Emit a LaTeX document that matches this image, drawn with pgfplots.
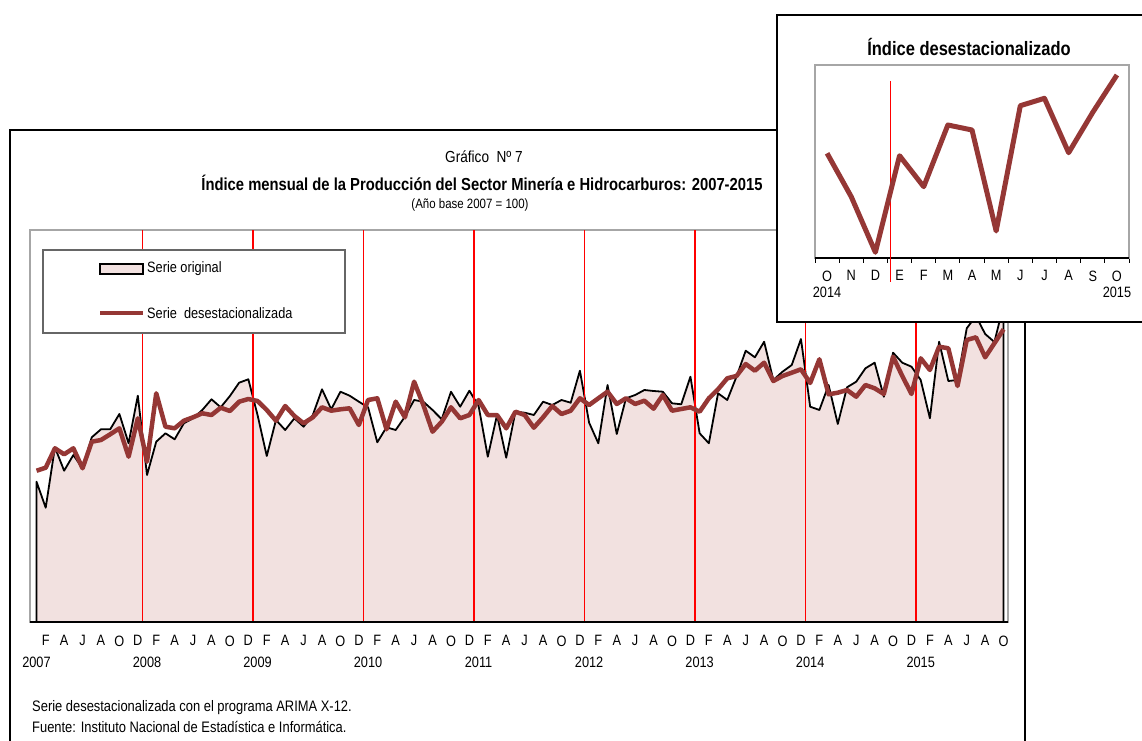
\documentclass[border=0pt]{standalone}
\usepackage{pgfplots}
\pgfplotsset{compat=1.18}
\usepackage{pgfplotstable}
\usepackage{fontspec}
\setmainfont{Liberation Sans}[FakeStretch=0.85]
\definecolor{pinkfill}{HTML}{F2E1E0}
\definecolor{redline}{HTML}{953735}
\pgfplotstableread{
m v
0 140.3
1 114.3
2 174.7
3 151.3
4 167
5 153.7
6 184.7
7 192.7
8 192.7
9 208
10 178.7
11 226.3
12 147
13 180.3
14 188.7
15 182.7
16 198.7
17 203.7
18 212
19 222.7
20 214.7
21 226
22 239.3
23 242.7
24 207
25 166
26 202
27 192
28 203.7
29 195.3
30 207
31 232.7
32 212.7
33 230.3
34 226.3
35 220.3
36 214.7
37 179.7
38 194.7
39 192
40 205.3
41 222
42 220.3
43 212
44 202.7
45 230.3
46 215.3
47 231.3
48 216
49 165.3
50 207
51 164.3
52 210.3
53 209.3
54 207
55 220.3
56 217
57 222
58 219.3
59 251.3
60 199.3
61 178.7
62 237
63 188
64 223.7
65 227
66 232
67 231
68 230.3
69 218.7
70 217.7
71 245.3
72 188.7
73 178.7
74 228.7
75 222
76 245.3
77 271.3
78 264.7
79 280.3
80 242
81 250.3
82 257
83 283
84 215.3
85 212
86 237
87 198
88 234.7
89 240.3
90 253.7
91 259.3
92 225.3
93 269.3
94 259.3
95 255.3
96 242
97 203.7
98 280.3
99 241
100 242
101 293.7
102 306
103 288
104 280
105 317
}\orig
\pgfplotstableread{
m v
0 151.3
1 154.3
2 173.7
3 167.7
4 173.7
5 153.7
6 180.3
7 182
8 187.7
9 193.7
10 165.3
11 203.7
12 160.3
13 228.7
14 195.3
15 193.7
16 201.3
17 204.7
18 208.7
19 207
20 214.3
21 211
22 220.3
23 223
24 221
25 212
26 201.3
27 216
28 206
29 198.7
30 204.7
31 214.7
32 211.3
33 212.7
34 213.7
35 197
36 222
37 223.7
38 192.7
39 220.3
40 204.7
41 240.3
42 217
43 190.3
44 200.3
45 214.7
46 203.7
47 207
48 222
49 207
50 207
51 193.7
52 210.3
53 207
54 194.3
55 204.7
56 216
57 208
58 211.3
59 223.7
60 217
61 223.7
62 230.3
63 218
64 223.7
65 218
66 221.3
67 213.3
68 227
69 211.3
70 213
71 214.7
72 210.3
73 223.7
74 232.7
75 243.7
76 246
77 258
78 251.3
79 259.3
80 241
81 246
82 249.3
83 252.7
84 239
85 262.7
86 227.7
87 229.3
88 232
89 225.3
90 237
91 233.7
92 228
93 265.3
94 246
95 228
96 263.7
97 252
98 275.3
99 273.7
100 236
101 282
102 284.7
103 264.7
104 278.7
105 292.7
}\desest
\pgfplotstableread{
m v
0 104.7
1 61.3
2 5.7
3 102.3
4 71.3
5 133
6 128
7 27
8 152.3
9 159.7
10 105.3
11 145.7
12 183
}\inset
\begin{document}
\begin{tikzpicture}
\useasboundingbox (0pt,0pt) rectangle (1142pt,740pt);
\begin{scope}[x=1pt,y=-1pt,yshift=740pt]
% main frame
\draw[black, line width=1.5pt] (10,760) -- (10,130) -- (1025,130) -- (1025,760);
% titles
\node[font=\fontsize{16}{18}\selectfont] at (484,157) {Gráfico\ \ Nº\ 7};
\node[font=\fontsize{17.4}{19}\selectfont\bfseries] at (482,183) {Índice mensual de la Producción del Sector Minería e Hidrocarburos: 2007-2015};
\node[font=\fontsize{13.5}{16}\selectfont] at (470,205) {(Año base 2007 = 100)};
% footnotes
\node[anchor=west, inner sep=0pt, font=\fontsize{15.2}{17}\selectfont] at (32,708) {Serie desestacionalizada con el programa ARIMA X-12.};
\node[anchor=west, inner sep=0pt, font=\fontsize{15.2}{17}\selectfont] at (32,727) {Fuente: Instituto Nacional de Estadística e Informática.};
\end{scope}
\begin{axis}[
  at={(30pt,118pt)}, anchor=south west,
  width=978pt, height=392pt, scale only axis,
  xmin=-0.706, xmax=105.48, ymin=0, ymax=392,
  axis line style={gray!70, line width=1.2pt},
  ytick=\empty,
  xtick={1,3,...,105},
  xticklabels={F,A,J,A,O,D,F,A,J,A,O,D,F,A,J,A,O,D,F,A,J,A,O,D,F,A,J,A,O,D,F,A,J,A,O,D,F,A,J,A,O,D,F,A,J,A,O,D,F,A,J,A,O},
  major tick length=0pt,
  xticklabel style={font=\fontsize{15}{15}\selectfont, yshift=-10pt},
  extra x ticks={0,12,...,96},
  extra x tick labels={2007,2008,2009,2010,2011,2012,2013,2014,2015},
  extra x tick style={xticklabel style={yshift=-21pt}, major tick length=0pt},
  minor xtick={5.5,11.5,...,101.5},
  minor tick length=5pt,
  minor tick style={black, line width=1pt},
  tick align=inside, tick pos=bottom,
  clip=false,
]
\addplot[fill=pinkfill, draw=black, line width=1.8pt, line join=round] table[x=m,y=v] {\orig} \closedcycle;
\pgfplotsinvokeforeach{11.5,23.5,...,95.5}{
  \draw[red, line width=1.5pt] (axis cs:#1,0) -- (axis cs:#1,392);
}
\addplot[redline, line width=4.5pt, line join=round] table[x=m,y=v] {\desest};
\draw[black, line width=2pt] (axis cs:-0.706,0) -- (axis cs:105.48,0);
\end{axis}
\begin{scope}[x=1pt,y=-1pt,yshift=740pt]
% legend
\draw[gray!80!black, line width=1.2pt, fill=white] (43,250) rectangle (345,333);
\draw[black, line width=1.5pt, fill=pinkfill] (100,264) rectangle (143,274);
\node[anchor=west, inner sep=0pt, font=\fontsize{15}{17}\selectfont] at (147,269) {Serie original};
\draw[redline, line width=4.5pt] (100,313) -- (143,313);
\node[anchor=west, inner sep=0pt, font=\fontsize{15}{17}\selectfont] at (147,313) {Serie\ \ desestacionalizada};
% inset
\draw[black, line width=2pt, fill=white] (777,322) -- (777,15) -- (1150,15) -- (1150,322) -- cycle;
\node[font=\fontsize{19.4}{22}\selectfont\bfseries] at (969,47) {Índice desestacionalizado};
\end{scope}
\begin{axis}[
  at={(815pt,482pt)}, anchor=south west,
  width=314pt, height=193pt, scale only axis,
  xmin=-0.5, xmax=12.5, ymin=0, ymax=193,
  axis line style={gray!70, line width=1.5pt},
  ytick=\empty,
  xtick={0,...,12},
  xticklabels={O,N,D,E,F,M,A,M,J,J,A,S,O},
  major tick length=0pt,
  xticklabel style={font=\fontsize{15}{15}\selectfont, yshift=-9pt},
  extra x ticks={0,12},
  extra x tick labels={2014,2015},
  extra x tick style={xticklabel style={yshift=-16pt}, major tick length=0pt},
  minor xtick={-0.5,0.5,...,12.5},
  minor tick length=5pt,
  minor tick style={black, line width=1pt},
  tick align=outside, tick pos=bottom,
  clip=false,
]
\draw[black, line width=1.5pt] (axis cs:-0.5,0) -- (axis cs:12.5,0);
\draw[red, line width=1.2pt] (axis cs:2.64,177) -- (axis cs:2.64,-24);
\addplot[redline, line width=5pt, line join=round] table[x=m,y=v] {\inset};
\end{axis}
\end{tikzpicture}
\end{document}
